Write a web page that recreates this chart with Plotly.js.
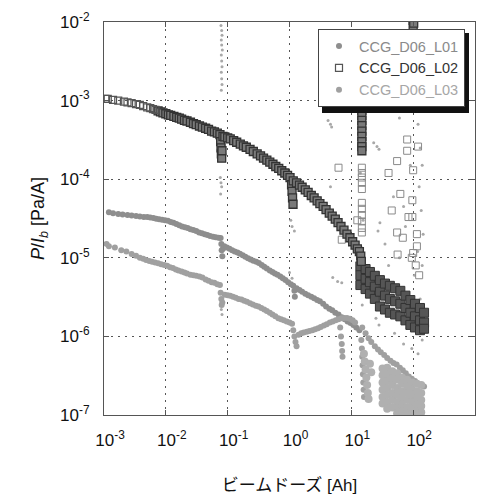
<!DOCTYPE html>
<html>
<head>
<meta charset="utf-8">
<script src="https://cdn.plot.ly/plotly-3.0.1.min.js"></script>
<style>html,body{margin:0;padding:0;background:#fff;}#chart{width:489px;height:498px;}</style>
</head>
<body>
<div id="chart"></div>
<script>
// ---- Data (beam dose [Ah], P/Ib [Pa/A]) ----
const seriesNames = ["CCG_D06_L01", "CCG_D06_L02", "CCG_D06_L03"];
const xTickVals = [1e-3, 1e-2, 1e-1, 1e0, 1e1, 1e2, 1e3];
const xTickText = ["10<sup>-3</sup>","10<sup>-2</sup>","10<sup>-1</sup>","10<sup>0</sup>","10<sup>1</sup>","10<sup>2</sup>","10<sup>3</sup>"];
const yTickVals = [1e-7, 1e-6, 1e-5, 1e-4, 1e-3, 1e-2];
const yTickText = ["10<sup>-7</sup>","10<sup>-6</sup>","10<sup>-5</sup>","10<sup>-4</sup>","10<sup>-3</sup>","10<sup>-2</sup>"];

// L02 early, sparse open squares
const l02Early = [
[0.00105,1.05e-3],[0.00115,1.05e-3],[0.0014,1.02e-3],[0.0017,1.0e-3],[0.0021,9.7e-4],[0.0024,9.5e-4],
[0.0028,9.3e-4],[0.0033,9.0e-4],[0.0038,8.8e-4],[0.0043,8.5e-4],[0.005,8.2e-4],[0.0056,8.0e-4],
[0.0062,7.8e-4],[0.0068,7.6e-4]
];
// L02 main dense band
const l02Main = [
[0.0075,7.4e-4],[0.0082,7.2e-4],[0.009,7.0e-4],[0.01,6.8e-4],
[0.011,6.6e-4],[0.012,6.5e-4],[0.0135,6.3e-4],[0.015,6.1e-4],[0.0165,6.0e-4],[0.018,5.8e-4],
[0.02,5.6e-4],[0.022,5.5e-4],[0.025,5.3e-4],[0.028,5.1e-4],[0.031,4.95e-4],[0.035,4.75e-4],
[0.039,4.6e-4],[0.044,4.45e-4],[0.049,4.3e-4],[0.055,4.1e-4],[0.061,4.0e-4],[0.068,3.85e-4],
[0.075,3.7e-4],[0.077,3.0e-4],[0.078,2.5e-4],[0.079,2.1e-4],[0.08,1.85e-4],[0.081,2.3e-4],
[0.084,3.5e-4],[0.09,3.45e-4],[0.1,3.35e-4],[0.11,3.25e-4],[0.125,3.1e-4],[0.14,2.95e-4],
[0.16,2.8e-4],[0.18,2.65e-4],[0.2,2.55e-4],[0.23,2.4e-4],[0.26,2.25e-4],[0.3,2.1e-4],
[0.34,1.98e-4],[0.38,1.85e-4],[0.43,1.75e-4],[0.48,1.65e-4],[0.54,1.55e-4],[0.6,1.45e-4],
[0.67,1.37e-4],[0.75,1.28e-4],[0.84,1.2e-4],[0.93,1.12e-4],[1.02,1.05e-4],
[1.08,8.5e-5],[1.1,7.0e-5],[1.12,5.8e-5],[1.14,4.8e-5],
[1.15,9.5e-5],[1.3,9.0e-5],[1.45,8.4e-5],[1.6,7.9e-5],[1.8,7.3e-5],[2.0,6.8e-5],[2.25,6.2e-5],
[2.5,5.8e-5],[2.8,5.3e-5],[3.1,4.9e-5],[3.5,4.5e-5],[3.9,4.1e-5],[4.4,3.7e-5],[4.9,3.4e-5],
[5.5,3.1e-5],[6.1,2.8e-5],[6.8,2.5e-5],[7.6,2.25e-5],[8.5,2.0e-5],[9.5,1.8e-5],[10.5,1.6e-5],
[11.5,1.45e-5],[12.5,1.3e-5],[13.5,1.2e-5],[14.2,1.05e-5],[14.5,9.0e-6],
[14.8,7.5e-4],[14.8,6.5e-4],[14.8,5.6e-4],[14.8,4.8e-4],[14.8,4.1e-4],[14.8,3.5e-4],[14.8,3.0e-4],
[14.8,2.6e-4],[14.8,2.3e-4],[100,9.0e-3],[100,1.05e-2],[102,9.7e-3]
];
// L02 tail at high dose (wide dark band)
const l02Tail = [
[14,7.8e-6],[14,6.0e-6],[14,4.5e-6],[17,7.2e-6],[17,5.4e-6],[17,4.0e-6],
[20,6.6e-6],[20,4.9e-6],[20,3.5e-6],[24,5.9e-6],[24,4.3e-6],[24,3.0e-6],
[29,5.2e-6],[29,3.7e-6],[29,2.4e-6],[35,4.7e-6],[35,3.3e-6],[35,2.2e-6],
[42,4.4e-6],[42,3.0e-6],[42,2.0e-6],[51,4.1e-6],[51,2.8e-6],[51,1.9e-6],
[62,3.8e-6],[62,2.6e-6],[62,1.8e-6],[75,3.3e-6],[75,2.3e-6],[75,1.6e-6],
[90,2.9e-6],[90,2.0e-6],[90,1.4e-6],[107,2.6e-6],[107,1.8e-6],[107,1.3e-6],
[129,2.3e-6],[129,1.6e-6],[129,1.2e-6],[150,2.0e-6],[150,1.5e-6],[150,1.25e-6]
];
// L02 sparse / lighter squares
const l02Sparse = [
[14.8,1.4e-4],[14.8,1.2e-4],[14.8,1.05e-4],[14.8,9e-5],[14.8,7.5e-5],[14.8,5e-5],[14.8,4.2e-5],
[14.8,3.5e-5],[14.8,2.9e-5],[14.8,2.4e-5],[14.8,2.1e-5],
[6.2,1.4e-4],[12.5,3e-5],[7,1.7e-5],[80,3.2e-4],[80,2.3e-4],[55,1.7e-4],[97,5.4e-5],[97,3.3e-5],
[100,1.3e-4],[62,6.5e-5],[68,1.8e-5],[115,2e-5],[115,1.4e-5],[84,3.3e-5],[100,1.15e-5],[55,2.1e-5],
[120,2.6e-4],[56,1.1e-5],[110,8e-6],[125,6e-6],[95,1e-5],[45,4e-5],[40,1.2e-4]
];
// L01 (upper grey curve)
const l01Main = [
[0.0012,3.8e-5],[0.0014,3.7e-5],[0.0017,3.6e-5],[0.002,3.55e-5],[0.0024,3.5e-5],[0.0028,3.45e-5],
[0.0033,3.4e-5],[0.0038,3.35e-5],[0.0044,3.3e-5],[0.005,3.3e-5],[0.0056,3.25e-5],[0.0063,3.2e-5],
[0.007,3.15e-5],[0.0078,3.1e-5],[0.0087,3.05e-5],[0.0097,3.0e-5],[0.0108,2.95e-5],[0.012,2.85e-5],
[0.0133,2.8e-5],[0.0148,2.7e-5],[0.0165,2.6e-5],[0.0183,2.5e-5],[0.0203,2.45e-5],[0.0225,2.4e-5],
[0.025,2.3e-5],[0.0278,2.25e-5],[0.031,2.2e-5],[0.0345,2.1e-5],[0.0383,2.05e-5],[0.0425,2.0e-5],
[0.047,1.95e-5],[0.052,1.9e-5],[0.058,1.85e-5],[0.064,1.82e-5],[0.071,1.8e-5],[0.077,1.78e-5],
[0.079,1.5e-5],[0.08,1.25e-5],[0.082,1.05e-5],[0.084,1.3e-5],
[0.088,1.4e-5],[0.097,1.35e-5],[0.107,1.3e-5],[0.118,1.25e-5],[0.13,1.2e-5],[0.144,1.17e-5],
[0.158,1.13e-5],[0.175,1.08e-5],[0.193,1.03e-5],[0.213,9.9e-6],[0.235,9.5e-6],[0.26,9.2e-6],
[0.29,8.9e-6],[0.32,8.6e-6],[0.355,8.1e-6],[0.39,7.7e-6],[0.43,7.3e-6],[0.48,6.9e-6],[0.53,6.6e-6],
[0.58,6.3e-6],[0.64,6.1e-6],[0.71,5.8e-6],[0.78,5.5e-6],[0.86,5.2e-6],[0.95,4.9e-6],[1.05,4.6e-6],
[1.15,4.4e-6],[1.2,3.8e-6],[1.22,3.2e-6],
[1.3,4.1e-6],[1.45,3.9e-6],[1.6,3.7e-6],[1.8,3.5e-6],[2.0,3.35e-6],[2.25,3.2e-6],[2.5,3.05e-6],
[2.8,2.9e-6],[3.1,2.8e-6],[3.5,2.6e-6],[3.9,2.4e-6],[4.4,2.25e-6],[4.9,2.15e-6],[5.5,2.0e-6],
[6.2,1.9e-6],[7,1.75e-6],[7.8,1.65e-6],[8.7,1.55e-6],[9.7,1.48e-6],[10.8,1.4e-6],[12,1.3e-6],[13.5,1.2e-6]
];
// L01 scattered dots
const l01Scatter = [
[0.078,9.0e-3],[0.08,7.8e-3],[0.081,6.8e-3],[0.079,5.9e-3],[0.08,5.1e-3],[0.082,4.4e-3],[0.079,3.8e-3],
[0.08,3.2e-3],[0.081,2.7e-3],[0.079,2.3e-3],[0.08,1.9e-3],[0.081,1.6e-3],[0.079,1.35e-3],
[0.076,1.05e-4],[0.078,9e-5],[0.08,8e-5],[0.077,6.5e-5],[0.079,2.2e-6],[0.081,1.9e-6],
[1.1,2.5e-5],[1.2,2.2e-5],[1.05,3e-5],[1.0,6.5e-6],[1.1,5.5e-6],
[4.2,5.6e-4],[4.6,5.0e-4],[4.8,4.6e-4],[4.6,8e-5],[5,5.6e-6],[6,5e-6],[7,4.8e-6],
[23,2.9e-4],[26,2.6e-4],[28,2.4e-4],[29,2.8e-5],[27,2.2e-5],[25,1.7e-6],[28,1.4e-6],
[14,5e-3],[14.5,3e-3],[15,1.5e-3],[14,1.2e-4],[15.5,3e-5],[14.2,1.4e-5],[15,2.5e-6],
[45,1.2e-3],[55,8e-4],[60,6e-4],[85,2.2e-3],[95,1.6e-3],[110,9e-4],[120,5e-4],[130,2.5e-4],
[140,1.5e-4],[125,8e-5],[135,4e-5],[145,2e-5],[118,1.2e-5],[140,8e-6],[48,6e-5],[70,4.5e-5],
[90,1.5e-4],[75,2.5e-5],[60,1e-5],[105,6e-6],[130,3e-6],[40,8e-6],[35,1.5e-5],[50,1.1e-6],
[70,8e-7],[95,7e-7],[120,6e-7],[140,9e-7],[130,1.1e-2],[120,7e-3],[135,4e-3]
];
// L03 (lower grey curve)
const l03Main = [
[0.0011,1.5e-5],[0.0012,1.4e-5],[0.0015,1.35e-5],[0.0019,1.25e-5],[0.0023,1.2e-5],[0.0028,1.12e-5],
[0.0033,1.06e-5],[0.0038,1.0e-5],[0.0043,9.7e-6],[0.0048,9.4e-6],[0.0054,9.1e-6],[0.006,8.9e-6],
[0.0067,8.7e-6],[0.0075,8.5e-6],[0.0084,8.3e-6],[0.0094,8.1e-6],[0.0105,7.9e-6],[0.0117,7.6e-6],
[0.013,7.4e-6],[0.0145,7.1e-6],[0.016,6.9e-6],[0.018,6.7e-6],[0.02,6.5e-6],[0.022,6.3e-6],
[0.025,6.1e-6],[0.028,6.0e-6],[0.031,5.9e-6],[0.035,5.8e-6],[0.039,5.6e-6],[0.044,5.3e-6],
[0.049,5.1e-6],[0.055,4.9e-6],[0.061,4.8e-6],[0.068,4.6e-6],[0.075,4.5e-6],
[0.077,3.6e-6],[0.079,3.0e-6],[0.08,2.5e-6],[0.082,2.7e-6],
[0.09,3.4e-6],[0.1,3.35e-6],[0.11,3.3e-6],[0.122,3.2e-6],[0.135,3.1e-6],[0.15,3.0e-6],[0.167,2.95e-6],
[0.185,2.85e-6],[0.205,2.75e-6],[0.23,2.65e-6],[0.255,2.55e-6],[0.285,2.45e-6],[0.315,2.4e-6],
[0.35,2.3e-6],[0.39,2.2e-6],[0.43,2.1e-6],[0.48,2.0e-6],[0.53,1.9e-6],[0.59,1.8e-6],[0.66,1.7e-6],
[0.73,1.65e-6],[0.81,1.6e-6],[0.9,1.55e-6],[1.0,1.5e-6],[1.1,1.45e-6],
[1.15,1.2e-6],[1.2,1.0e-6],[1.25,8.5e-7],[1.3,7.5e-7],
[1.4,1.05e-6],[1.55,1.1e-6],[1.7,1.12e-6],[1.9,1.15e-6],[2.1,1.17e-6],[2.35,1.2e-6],[2.6,1.23e-6],
[2.9,1.27e-6],[3.2,1.32e-6],[3.6,1.38e-6],[4.0,1.43e-6],[4.5,1.5e-6],[5.0,1.55e-6],[5.6,1.6e-6],
[6.2,1.65e-6],[6.9,1.7e-6],[6.6,1.3e-6],[6.8,1.0e-6],[7.0,8e-7],[7.1,6.5e-7],[7.2,5.5e-7],
[7.7,1.72e-6],[8.5,1.72e-6],[9.5,1.68e-6],[10.5,1.6e-6],[11.5,1.5e-6],
[15,1.3e-6],[17,1.1e-6],[19,9.5e-7],[21,8.5e-7],[24,7.5e-7],[27,6.8e-7],[30,6.3e-7],[34,5.8e-7],
[38,5.3e-7],[43,4.9e-7],[48,4.6e-7],[54,4.4e-7],[61,4.0e-7],[68,3.7e-7],[76,3.4e-7],[85,3.1e-7],
[95,2.9e-7],[107,2.7e-7],[120,2.5e-7],[135,2.4e-7],[150,2.3e-7],
[14.5,9e-7],[14.8,7e-7],[15,5.5e-7],[15.2,4.3e-7],[15.4,3.3e-7],[15.6,2.6e-7],[15.8,2.1e-7],[16,1.7e-7]
];
// L03 dense spread at high dose
const l03Spread = [
[32,3.9e-7],[32,3.2e-7],[32,2.6e-7],[32,2.1e-7],[32,1.7e-7],[32,1.4e-7],
[38,4.0e-7],[38,3.3e-7],[38,2.7e-7],[38,2.2e-7],[38,1.8e-7],[38,1.45e-7],[38,1.2e-7],
[46,3.6e-7],[46,2.9e-7],[46,2.4e-7],[46,1.9e-7],[46,1.55e-7],[46,1.25e-7],
[55,3.4e-7],[55,2.8e-7],[55,2.2e-7],[55,1.8e-7],[55,1.45e-7],[55,1.2e-7],[55,1.05e-7],
[66,3.0e-7],[66,2.5e-7],[66,2.0e-7],[66,1.65e-7],[66,1.35e-7],[66,1.1e-7],
[80,2.8e-7],[80,2.3e-7],[80,1.9e-7],[80,1.55e-7],[80,1.25e-7],[80,1.05e-7],
[96,2.6e-7],[96,2.1e-7],[96,1.75e-7],[96,1.45e-7],[96,1.2e-7],[96,1.02e-7],
[115,2.5e-7],[115,2.0e-7],[115,1.65e-7],[115,1.35e-7],[115,1.12e-7],
[135,2.4e-7],[135,1.9e-7],[135,1.55e-7],[135,1.3e-7],[135,1.08e-7],
[16,6e-7],[16.5,4.8e-7],[17,3.8e-7],[17.5,3e-7],[18,2.4e-7],[18.5,1.9e-7],[19,1.6e-7],[20,4.5e-7],[21,3.5e-7]
];

const xs = a => a.map(p => p[0]);
const ys = a => a.map(p => p[1]);
const FONT = "Liberation Sans, Arial, Noto Sans CJK JP, sans-serif";

const traces = [
  {x: xs(l01Main), y: ys(l01Main), mode: "markers", type: "scatter",
   name: '<span style="color:#8a8a8a">' + seriesNames[0] + '</span>', legendgroup: "g1", legendrank: 1,
   marker: {symbol: "circle", size: 6, color: "#8e8e8e"}},
  {x: xs(l01Scatter), y: ys(l01Scatter), mode: "markers", type: "scatter",
   name: seriesNames[0], legendgroup: "g1", showlegend: false,
   marker: {symbol: "circle", size: 3, color: "#a8a8a8"}},
  {x: xs(l03Main), y: ys(l03Main), mode: "markers", type: "scatter",
   name: '<span style="color:#a6a6a6">' + seriesNames[2] + '</span>', legendgroup: "g3", legendrank: 3,
   marker: {symbol: "circle", size: 6, color: "#a0a0a0"}},
  {x: xs(l03Spread), y: ys(l03Spread), mode: "markers", type: "scatter",
   name: seriesNames[2], legendgroup: "g3", showlegend: false,
   marker: {symbol: "circle", size: 8, color: "#b0b0b0"}},
  {x: xs(l02Sparse), y: ys(l02Sparse), mode: "markers", type: "scatter",
   name: seriesNames[1], legendgroup: "g2", showlegend: false,
   marker: {symbol: "square-open", size: 7, color: "#8a8a8a", line: {width: 1}}},
  {x: xs(l02Tail), y: ys(l02Tail), mode: "markers", type: "scatter",
   name: seriesNames[1], legendgroup: "g2", showlegend: false,
   marker: {symbol: "square", size: 9, color: "#555", line: {width: 1, color: "#333"}}},
  {x: xs(l02Main), y: ys(l02Main), mode: "markers", type: "scatter",
   name: seriesNames[1], legendgroup: "g2", showlegend: false,
   marker: {symbol: "square", size: 8, color: "#7a7a7a", line: {width: 1.3, color: "#333"}}},
  {x: xs(l02Early), y: ys(l02Early), mode: "markers", type: "scatter",
   name: '<span style="color:#333">' + seriesNames[1] + '</span>', legendgroup: "g2", legendrank: 2,
   marker: {symbol: "square-open", size: 7, color: "#555", line: {width: 1.2}}}
];

const axisCommon = {
  type: "log", showline: true, linecolor: "#555", linewidth: 1, mirror: "ticks",
  ticks: "inside", ticklen: 5, tickcolor: "#555", tickmode: "array",
  showgrid: true, gridcolor: "#555", gridwidth: 1, griddash: "2px,5px", zeroline: false,
  tickfont: {family: FONT, size: 17, color: "#111"}
};

// pixel helpers for the legend shadow (plot area: x 104..475, y 22..415)
const px2x = p => (p - 104) / 371;
const px2y = p => (415 - p) / 393;

const layout = {
  width: 489, height: 498,
  margin: {l: 104, r: 14, t: 22, b: 83},
  paper_bgcolor: "#fff", plot_bgcolor: "#fff",
  showlegend: true,
  xaxis: Object.assign({}, axisCommon, {
    range: [-3, 3], tickvals: xTickVals, ticktext: xTickText, ticklabelshift: 6, ticklabelstandoff: 10,
    title: {text: "ビームドーズ [Ah]", font: {family: FONT, size: 17, color: "#111"}, standoff: 29}
  }),
  yaxis: Object.assign({}, axisCommon, {
    range: [-7, -2], tickvals: yTickVals, ticktext: yTickText, ticklabelstandoff: 10,
    title: {text: "<i>P</i>/<i>I</i><sub><i>b</i></sub> [Pa/A]", font: {family: FONT, size: 18, color: "#111"}, standoff: 10}
  }),
  legend: {
    x: px2x(318), y: px2y(29), xanchor: "left", yanchor: "top",
    bgcolor: "#fff", bordercolor: "#444", borderwidth: 1,
    font: {family: FONT, size: 14.5, color: "#333"},
    traceorder: "grouped", tracegroupgap: 0, itemsizing: "trace"
  },
  shapes: [
    {type: "rect", xref: "paper", yref: "paper", layer: "above",
     x0: px2x(322), x1: px2x(469), y0: px2y(113), y1: px2y(33),
     fillcolor: "#111", line: {width: 0}}
  ]
};

Plotly.newPlot("chart", traces, layout, {staticPlot: true, displayModeBar: false});
</script>
</body>
</html>
